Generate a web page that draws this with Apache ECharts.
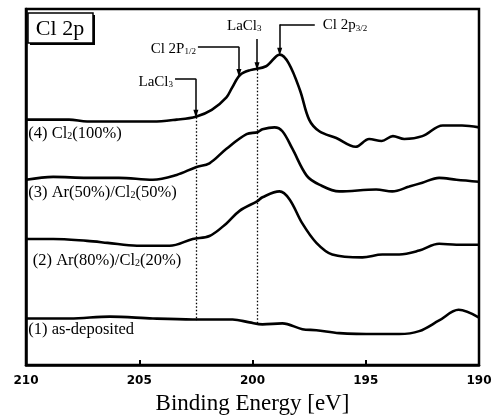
<!DOCTYPE html>
<html>
<head>
<meta charset="utf-8">
<script src="https://cdn.jsdelivr.net/npm/echarts@6/dist/echarts.min.js"></script>
<style>html,body{margin:0;padding:0;background:#fff}#main{width:502px;height:420px}</style>
</head>
<body>
<div id="main"></div>
<script>
// binding energy [eV] / intensity (arb. units, spectra offset)
var be4 = [210.0, 208.1, 207.3, 205.9, 204.4, 203.35, 202.5, 201.8, 201.15, 200.9, 200.55, 200.1, 199.4, 198.8, 198.4, 197.9, 197.5, 197.05, 196.3, 195.45, 194.85, 194.3, 193.8, 193.3, 192.5, 191.6, 190.75, 190.0];
var cl100 = [255, 255, 253, 253, 253, 255, 258, 265, 278, 288, 301, 306, 310, 322, 313, 285, 255, 243, 236, 227, 235, 233, 238, 235, 238, 249, 249, 247];

var be3 = [210.0, 208.8, 207.3, 205.9, 204.4, 203.35, 202.5, 201.9, 201.15, 200.26, 199.78, 199.56, 199.03, 198.68, 198.24, 197.6, 197.05, 196.17, 194.54, 193.83, 193.08, 192.5, 191.76, 191.0, 190.0];
var ar50 = [193, 196, 195, 195, 193, 198, 206, 210, 225, 240, 242, 245, 247, 243, 225, 197, 188, 181, 183, 181, 186, 190, 195, 193, 191];

var be2 = [210.0, 208.8, 207.3, 206.4, 205.1, 203.66, 202.64, 201.9, 201.15, 200.57, 199.78, 199.56, 198.81, 198.37, 197.8, 197.18, 196.48, 195.15, 194.27, 193.52, 192.64, 191.76, 191.0, 190.0];
var ar80 = [132, 132, 130, 128, 125, 125, 132, 135, 148, 161, 171, 175, 181, 173, 148, 128, 116, 113, 116, 116, 120, 127, 126, 126];

var be1 = [210.0, 208.06, 206.3, 204.4, 202.64, 200.88, 200.13, 199.56, 198.68, 197.8, 197.18, 196.17, 194.5, 193.52, 192.64, 191.76, 190.9, 190.0];
var asdep = [50, 50, 52, 50, 49, 49, 46, 44, 45, 39, 38, 35, 34, 34, 37, 48, 59, 51];

var xTicks = [190, 195, 200, 205, 210];

// peak markers: [BE, top, tip]
var laCl3Low = [202.5, 297, 261];
var laCl3High = [199.8, 338, 310];
var p12 = [200.6, 330, 303];
var p32 = [198.8, 353, 325];

function zip(xs, ys) {
  return xs.map(function (x, i) { return [x, ys[i]]; });
}

var serif = 'Liberation Serif';
var myChart = echarts.init(document.getElementById('main'));
var option;

var lineStyle = { color: '#000', width: 2.6 };
function spectrum(name, data) {
  return {
    name: name,
    type: 'line',
    data: data,
    symbol: 'none',
    smooth: 0.35,
    lineStyle: lineStyle,
    silent: true
  };
}

var arrow = function (m) {
  return [{ coord: [m[0], m[1]], symbol: 'none' }, { coord: [m[0], m[2]], symbol: 'triangle', symbolSize: [5, 8], symbolRotate: 180 }];
};
var flat = function (x0, x1, y) {
  return [{ coord: [x0, y], symbol: 'none' }, { coord: [x1, y], symbol: 'none' }];
};

option = {
  animation: false,
  grid: {
    left: 26, right: 23, top: 9, bottom: 44,
    show: true, borderColor: '#000', borderWidth: 2.5
  },
  xAxis: {
    type: 'value',
    inverse: true,
    min: 190,
    max: 210,
    interval: 5,
    axisLine: { show: true, lineStyle: { color: '#000', width: 2.5 } },
    axisTick: { show: true, inside: true, length: 5, lineStyle: { color: '#000', width: 2 } },
    axisLabel: {
      color: '#000', fontFamily: 'DejaVu Sans', fontWeight: 'bold', fontSize: 12, margin: 10,
      formatter: function (v) { return xTicks.indexOf(v) >= 0 ? String(v) : ''; }
    },
    splitLine: { show: false },
    name: 'Binding Energy [eV]',
    nameLocation: 'middle',
    nameGap: 23,
    nameTextStyle: { color: '#000', fontFamily: serif, fontSize: 23 }
  },
  yAxis: {
    type: 'value',
    min: 2,
    max: 369,
    axisLine: { show: true, lineStyle: { color: '#000', width: 2.5 } },
    axisTick: { show: false },
    axisLabel: { show: false },
    splitLine: { show: false }
  },
  series: [
    spectrum('(4) Cl2(100%)', zip(be4, cl100)),
    spectrum('(3) Ar(50%)/Cl2(50%)', zip(be3, ar50)),
    spectrum('(2) Ar(80%)/Cl2(20%)', zip(be2, ar80)),
    spectrum('(1) as-deposited', zip(be1, asdep)),
    {
      type: 'line',
      data: [],
      silent: true,
      markLine: {
        silent: true,
        animation: false,
        label: { show: false },
        lineStyle: { color: '#000', width: 1.5, type: 'solid' },
        data: [
          arrow(laCl3Low), arrow(laCl3High), arrow(p12), arrow(p32),
          flat(203.42, laCl3Low[0], laCl3Low[1]),
          flat(202.41, p12[0], p12[1]),
          flat(p32[0], 197.25, p32[1])
        ]
      }
    },
    {
      type: 'line',
      data: [],
      silent: true,
      markLine: {
        silent: true,
        animation: false,
        symbol: 'none',
        label: { show: false },
        lineStyle: { color: '#000', width: 1.3, type: [1.5, 2] },
        data: [
          [{ coord: [laCl3Low[0], laCl3Low[2]] }, { coord: [laCl3Low[0], 48] }],
          [{ coord: [laCl3High[0], laCl3High[2]] }, { coord: [laCl3High[0], 45] }]
        ]
      }
    }
  ]
};

option && myChart.setOption(option);

// text labels, placed from data coords
var rich = {
  n: { fontFamily: serif, fontSize: 15, lineHeight: 15, color: '#000' },
  s: { fontFamily: serif, fontSize: 9, lineHeight: 4, color: '#000', verticalAlign: 'bottom' }
};
var richBig = {
  n: { fontFamily: serif, fontSize: 16.5, lineHeight: 16, color: '#000' },
  s: { fontFamily: serif, fontSize: 10, lineHeight: 4, color: '#000', verticalAlign: 'bottom' }
};
function px(x, y) { return myChart.convertToPixel({ gridIndex: 0 }, [x, y]); }
function label(text, pos, align, st) {
  return {
    type: 'text', x: pos[0], y: pos[1], silent: true,
    style: { text: text, rich: st || rich, align: align || 'left', verticalAlign: 'middle' }
  };
}

var a = px(203.42, laCl3Low[1]);
var b = px(202.41, p12[1]);
var c = px(197.25, p32[1]);
var d = px(laCl3High[0], laCl3High[1]);

var graphics = [
  // Cl 2p box
  { type: 'rect', shape: { x: 30, y: 15, width: 65, height: 30 }, style: { fill: '#000' }, silent: true },
  { type: 'rect', shape: { x: 28, y: 13, width: 65, height: 30 }, style: { fill: '#fff', stroke: '#000', lineWidth: 1.5 }, silent: true },
  { type: 'text', x: 60, y: 29, silent: true, style: { text: 'Cl 2p', font: '22px "Liberation Serif"', fill: '#000', align: 'center', verticalAlign: 'middle' } },
  label('{n|LaCl}{s|3}', [a[0] - 2, a[1] + 3], 'right'),
  label('{n|Cl 2P}{s|1/2}', [b[0] - 2, b[1] + 2], 'right'),
  label('{n|LaCl}{s|3}', [d[0] - 30, d[1] - 13], 'left'),
  label('{n|Cl 2p}{s|3/2}', [c[0] + 8, c[1] + 1], 'left'),
  label('{n|(4) Cl}{s|2}{n|(100%)}', px(209.9, 378 - 137), 'left', richBig),
  label('{n|(3) Ar(50%)/Cl}{s|2}{n|(50%)}', px(209.9, 378 - 198), 'left', richBig),
  label('{n|(2) Ar(80%)/Cl}{s|2}{n|(20%)}', px(209.7, 378 - 268), 'left', richBig),
  label('{n|(1) as-deposited}', px(209.9, 378 - 340), 'left', richBig)
];
myChart.setOption({ graphic: graphics });
</script>
</body>
</html>
